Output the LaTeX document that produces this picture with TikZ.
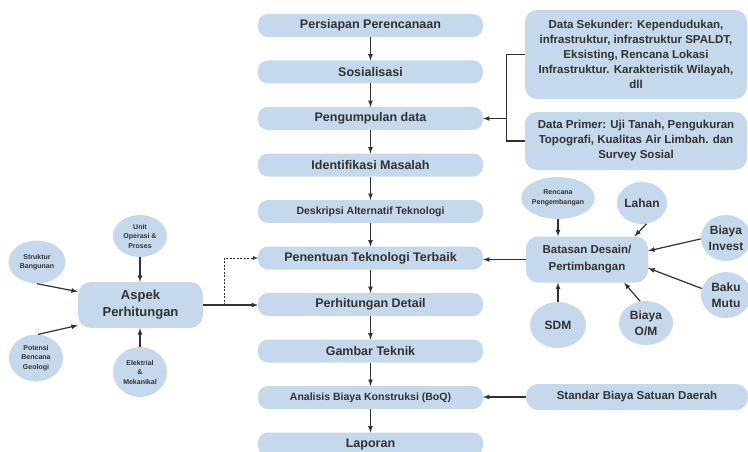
\documentclass[tikz,border=0pt]{standalone}
\usepackage{xcolor}
\usepackage{fontspec}
\setmainfont{Liberation Sans}
\usepackage{tikz}
\usetikzlibrary{shapes,arrows,positioning,fit,calc}

\definecolor{boxblue}{RGB}{197,216,236}
\definecolor{ink}{RGB}{50,50,50}

\begin{document}
\begin{tikzpicture}[x=1pt, y=1pt, node distance=23.5pt, >=latex,
    proc/.style={rectangle, rounded corners=10pt, fill=boxblue, text=ink, inner sep=0pt, outer sep=0pt, minimum width=225pt, minimum height=23pt, font=\bfseries\fontsize{12.5}{15}\selectfont},
    narrow/.style={font=\bfseries\fontsize{10.5}{13}\selectfont},
    side/.style={rectangle, rounded corners=12pt, fill=boxblue, text=ink, inner sep=0pt, align=center, minimum width=222pt, font=\bfseries\fontsize{11.5}{15}\selectfont},
    bubble/.style={ellipse, fill=boxblue, text=ink, inner sep=0pt, align=center, font=\bfseries\fontsize{12}{16}\selectfont},
    tiny/.style={font=\bfseries\fontsize{7}{9.5}\selectfont},
    link/.style={->, draw=ink, line width=1.2pt},
    wire/.style={draw=ink, line width=1.2pt}]
    \useasboundingbox (0,0) rectangle (748,451);

    \node (prep) [proc] at (370.5,425.5) {Persiapan Perencanaan};
    \node (sos) [proc, below=of prep] {Sosialisasi};
    \node (data) [proc, below=of sos] {Pengumpulan data};
    \node (ident) [proc, below=of data] {Identifikasi Masalah};
    \node (desk) [proc, narrow, below=of ident] {Deskripsi Alternatif Teknologi};
    \node (best) [proc, below=of desk] {Penentuan Teknologi Terbaik};
    \node (det) [proc, below=of best] {Perhitungan Detail};
    \node (gbr) [proc, below=of det] {Gambar Teknik};
    \node (boq) [proc, narrow, below=of gbr] {Analisis Biaya Konstruksi (BoQ)};
    \node (lap) [proc, below=of boq] {Laporan};

    \draw [link] (prep) -- (sos);
    \draw [link] (sos) -- (data);
    \draw [link] (data) -- (ident);
    \draw [link] (ident) -- (desk);
    \draw [link] (desk) -- (best);
    \draw [link] (best) -- (det);
    \draw [link] (det) -- (gbr);
    \draw [link] (gbr) -- (boq);
    \draw [link] (boq) -- (lap);

    \node (sek) [side, minimum height=89pt] at (636,396.5) {Data Sekunder: Kependudukan,\\infrastruktur, infrastruktur SPALDT,\\Eksisting, Rencana Lokasi\\Infrastruktur. Karakteristik Wilayah,\\dll};
    \node (prim) [side, minimum height=58pt] at (636,310) {Data Primer: Uji Tanah, Pengukuran\\Topografi, Kualitas Air Limbah. dan\\Survey Sosial};
    \node (std) [side, minimum height=26pt] at (637,54) {Standar Biaya Satuan Daerah};

    \draw [wire] (sek.west) -- ++(-18,0) coordinate (brk) |- (prim.west);
    \draw [link] (brk |- data.east) -- (data.east);
    \draw [link] (std.west) -- (std.west -| boq.east);

    \node (bat) [rectangle, rounded corners=12pt, fill=boxblue, text=ink, inner sep=0pt, align=center, minimum width=122pt, minimum height=46pt, font=\bfseries\fontsize{11.5}{17}\selectfont] at (587,191.5) {Batasan Desain/\\Pertimbangan};
    \node (renc) [bubble, tiny, minimum width=70pt, minimum height=42pt] at (558,253) {Rencana\\Pengembangan};
    \node (lahan) [bubble, minimum width=48pt, minimum height=42pt] at (642,248) {Lahan};
    \node (inv) [bubble, minimum width=50pt, minimum height=46pt] at (726,213) {Biaya\\Invest};
    \node (baku) [bubble, minimum width=50pt, minimum height=46pt] at (726,156) {Baku\\Mutu};
    \node (om) [bubble, minimum width=54pt, minimum height=44pt] at (646,128) {Biaya\\O/M};
    \node (sdm) [bubble, minimum width=56pt, minimum height=46pt] at (558,126) {SDM};

    \draw [link] (bat.west) -- (bat.west -| best.east);
    \draw [link] (renc.south) -- (renc.south |- bat.north);
    \draw [link] (lahan.-78) -- (bat.26);
    \draw [link] (inv.182) -- (bat.8);
    \draw [link] (baku.165) -- (bat.-8);
    \draw [link] (om.105) -- (bat.-32);
    \draw [link] (sdm.north) -- (sdm.north |- bat.south);

    \node (aspek) [rectangle, rounded corners=13pt, fill=boxblue, text=ink, inner sep=0pt, align=center, minimum width=125pt, minimum height=46pt, font=\bfseries\fontsize{13}{17}\selectfont] at (140.5,146) {Aspek\\Perhitungan};
    \node (unit) [bubble, tiny, minimum width=54pt, minimum height=42pt] at (140,215) {Unit\\Operasi \&\\Proses};
    \node (strk) [bubble, tiny, minimum width=57pt, minimum height=43pt] at (37,189) {Struktur\\Bangunan};
    \node (geo) [bubble, tiny, minimum width=54pt, minimum height=47pt] at (36,93) {Potensi\\Bencana\\Geologi};
    \node (mek) [bubble, tiny, minimum width=54pt, minimum height=50pt] at (140,79) {Elektrial\\\&\\Mekanikal};

    \draw [link] (unit.south) -- (unit.south |- aspek.north);
    \draw [link] (strk.south) -- (aspek.168);
    \draw [link] (geo.85) -- (aspek.198);
    \draw [link] (mek.north) -- (mek.north |- aspek.south);
    \draw [link] (aspek.east) -- (aspek.east -| det.west);
    \draw [link, line width=0.8pt, dash pattern=on 2pt off 1.5pt] ($(aspek.east)+(21,0)$) |- (best.west);
\end{tikzpicture}
\end{document}
